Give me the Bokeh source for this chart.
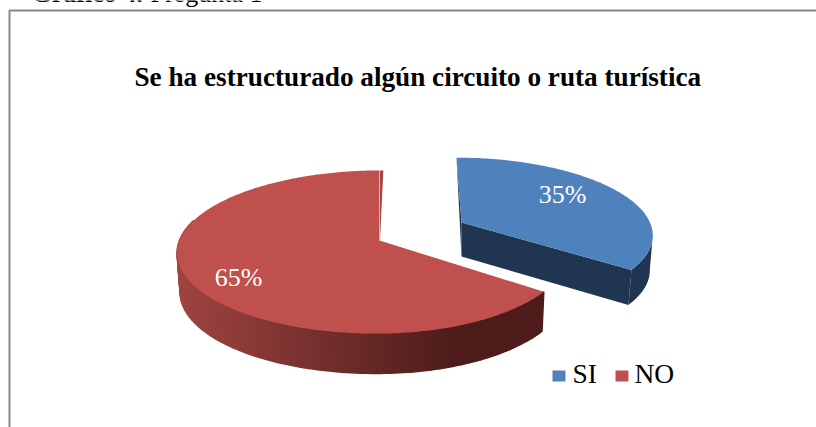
import numpy as np
from bokeh.plotting import figure
from bokeh.embed import file_html
from bokeh.resources import INLINE
from bokeh.core.properties import value
from bokeh.models import Range1d

slices = ["SI", "NO"]
shares = [35, 65]
labels = ["35%", "65%"]
title_text = "Se ha estructurado algún circuito o ruta turística"
header_bold = "Gráfico 4."
header_plain = "Pregunta 1"

BLUE, NAVY = "#4F81BD", "#1F3550"
RED = "#C0504D"
SERIF = value("Liberation Serif")

p = figure(width=816, height=427, output_backend="svg", toolbar_location=None,
           x_range=Range1d(0, 816), y_range=Range1d(427, 0),
           min_border=0, outline_line_color=None, background_fill_color="white")
p.axis.visible = False
p.grid.visible = False

K = 0.141


def project(theta_deg, cx, cy, a_left, a_right, b, shear):
    t = np.radians(theta_deg)
    u, v = np.sin(t), -np.cos(t)
    d = 1 - K * v
    a = np.where(u < 0, a_left, a_right)
    y = b * v / d
    return cx + a * u / d + shear * y, cy + y


# chart frame: only its top and left edges fall inside the page
p.quad(left=[9], right=[830], top=[10], bottom=[440],
       fill_color="white", line_color="#868686", line_width=2)

sweep_si = 360 * shares[0] / 100
sweep_no = 360 * shares[1] / 100

# --- SI slice (exploded)
th = np.linspace(0, sweep_si, 120)
apex_si = (461.0, 222.0)
tx, ty = project(th, *apex_si, 188.5, 188.5, 74, 0.077)
bx, by = project(th, apex_si[0] - 3, apex_si[1] + 35, 188.5, 188.5, 74, 0.077)
bax, bay = apex_si[0], apex_si[1] + 34
imax = int(np.argmax(tx))
p.patch(np.r_[tx[0], apex_si[0], bax], np.r_[ty[0], apex_si[1], bay], fill_color=NAVY, line_color=None)
p.patch(np.r_[apex_si[0], tx[-1], bx[-1], bax], np.r_[apex_si[1], ty[-1], by[-1], bay],
        fill_color=NAVY, line_color=None)
p.patch(np.r_[tx[imax:], bx[imax:][::-1]], np.r_[ty[imax:], by[imax:][::-1]],
        fill_color=NAVY, line_color=None)
p.patch(np.r_[apex_si[0], tx], np.r_[apex_si[1], ty], fill_color=BLUE, line_color=None)

# --- NO slice
apex_no = (379.0, 240.0)
th = np.linspace(sweep_si, sweep_si + sweep_no, 300)
tx, ty = project(th, *apex_no, 200, 188, 80, -0.03)
# outer wall, shaded strip by strip, left light to right dark
wt = np.linspace(sweep_si, 285, 130)
wx, wy = project(wt, *apex_no, 200, 188, 80, -0.03)
lx, ly = project(wt, apex_no[0], apex_no[1] + 39, 197, 186, 80.7, -0.03)
c0, c1 = np.array([0x9E, 0x44, 0x41]), np.array([0x4E, 0x1D, 0x1B])
xs, ys, cols = [], [], []
for i in range(len(wt) - 1):
    f = np.clip((450 - 0.5 * (wx[i] + wx[i + 1])) / 270, 0, 1)
    c = c1 + (c0 - c1) * f
    cols.append("#%02x%02x%02x" % tuple(int(x) for x in c))
    xs.append([wx[i], wx[i + 1], lx[i + 1], lx[i]])
    ys.append([wy[i], wy[i + 1], ly[i + 1], ly[i]])
p.patches(xs, ys, fill_color=cols, line_color=cols, line_width=1.5)
# inner wall sliver beside the top edge
sx, sy = project(np.array([sweep_si + sweep_no - 0.6, sweep_si + sweep_no + 0.6]),
                 *apex_no, 200, 188, 80, -0.03)
p.patch(np.r_[apex_no[0] + 0.5, sx], np.r_[apex_no[1], sy], fill_color="#A54644", line_color=None)
p.patch(np.r_[apex_no[0], tx[:-1]], np.r_[apex_no[1], ty[:-1]], fill_color=RED, line_color=None)

# --- texts
p.text([134], [76], text=[title_text], text_font=SERIF, text_font_style="bold",
       text_font_size="27.2px", text_color="black", text_baseline="alphabetic")
p.text([562], [194], text=[labels[0]], text_font=SERIF, text_font_size="26px",
       text_color="white", text_align="center", text_baseline="middle")
p.text([238], [277], text=[labels[1]], text_font=SERIF, text_font_size="26px",
       text_color="white", text_align="center", text_baseline="middle")
p.text([31], [-7], text=[header_bold], text_font=SERIF, text_font_style="bold",
       text_font_size="26px", text_color="black", text_baseline="alphabetic")
p.text([150], [-7], text=[header_plain], text_font=SERIF,
       text_font_size="26px", text_color="black", text_baseline="alphabetic")

# --- legend
p.quad(left=[552, 615], right=[565, 628], top=[370, 370], bottom=[381, 381],
       fill_color=[BLUE, RED], line_color=None)
p.text([572, 634], [373, 373], text=slices, text_font=SERIF, text_font_size="27.5px",
       text_color="black", text_baseline="alphabetic")

open("out.html", "w").write(file_html(p, INLINE))
